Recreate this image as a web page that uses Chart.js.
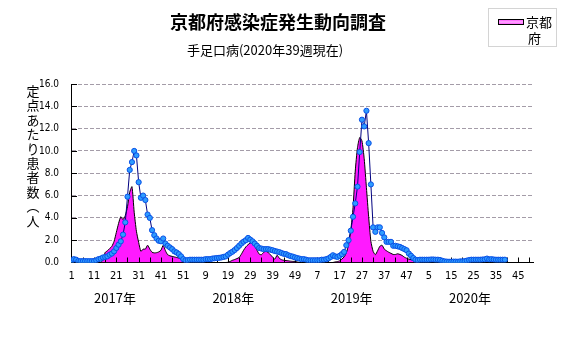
<!DOCTYPE html>
<html><head><meta charset="utf-8">
<script src="https://cdn.jsdelivr.net/npm/chart.js@4/dist/chart.umd.min.js"></script>
<style>html,body{margin:0;padding:0;background:#fff}#wrap{position:relative;width:567px;height:339px}</style>
</head><body><div id="wrap"><canvas id="c" width="567" height="339"></canvas></div>
<script>
// ---- data ----
const titleText = '京都府感染症発生動向調査';
const subtitleText = '手足口病(2020年39週現在)';
const yTitleChars = ['定','点','あ','た','り','患','者','数','︵','人'];
const legendLabel = '京都府';
const yearLabels = ['2017年','2018年','2019年','2020年'];
const weeksPerYear = [52, 52, 52, 53];
const tickLabels = ['1','11','21','31','41','51','9','19','29','39','49','7','17','27','37','47','5','15','25','35','45'];

// blue dotted line series
const line2017 = [0.15,0.3,0.25,0.13,0.12,0.12,0.12,0.12,0.12,0.12,0.13,
  0.2,0.3,0.35,0.45,0.5,0.55,0.7,0.8,1.0,1.3,1.6,1.9,2.5,3.6,5.9,8.3,9.0,10.0,9.6,7.2,5.8,6.0,5.6,4.3,4.0,2.9,2.45,2.15,1.95,1.9,2.15,1.7,1.5,1.35,1.2,1.0,0.9,0.75,0.55,0.3,0.2];
const line2018 = [0.22,0.25,0.25,0.25,0.25,0.25,0.25,0.25,0.3,0.3,0.3,
  0.35,0.38,0.4,0.42,0.45,0.5,0.55,0.7,0.85,0.97,1.12,1.3,1.5,1.7,1.87,2.0,2.2,2.05,1.9,1.7,1.5,1.3,1.25,1.2,1.2,1.2,1.15,1.1,1.03,0.98,0.93,0.85,0.78,0.75,0.65,0.58,0.53,0.46,0.4,0.35,0.3];
const line2019 = [0.3,0.25,0.2,0.2,0.2,0.2,0.2,0.2,0.25,0.25,0.3,0.37,0.5,0.65,0.55,0.5,0.6,0.75,0.95,1.55,
  2.0,2.85,4.1,5.3,6.8,9.9,12.8,12.2,13.6,10.7,7.0,3.15,2.75,3.15,3.15,2.65,2.25,1.85,1.85,1.85,1.5,1.5,1.45,1.4,1.3,1.2,1.1,0.8,0.6,0.4,0.25,0.22];
const line2020 = [0.25,0.25,0.25,0.25,0.25,0.27,0.27,0.25,0.25,0.22,0.15,0.1,0.08,0.07,0.07,0.08,0.08,0.07,0.1,0.1,0.12,0.17,0.22,0.25,0.25,0.25,0.25,0.25,0.27,0.28,0.35,0.28,0.3,0.27,0.25,0.25,0.25,0.25,0.25,
  null,null,null,null,null,null,null,null,null,null,null,null,null,null,null];

// magenta area series (京都府)
const area2017 = [0,0,0,0,0,0,0,0,0,0,0,0,0,0,
  0.2,0.9,1.05,1.25,1.45,1.9,2.7,3.5,4.1,3.85,4.2,5.0,6.3,6.8,4.5,2.8,1.8,1.0,1.2,1.2,1.55,1.2,0.92,0.86,0.88,0.95,1.1,1.55,1.05,0.7,0.6,0.55,0.5,0.45,0.4,0.3,0.2,0.1];
const area2018 = [0,0,0,0,0,0,0,0,0,0,0,0,0,0,0,0,0,0,
  0.02,0.1,0.2,0.27,0.35,0.45,0.75,1.1,1.4,1.6,1.75,1.82,1.45,1.1,0.75,0.7,0.92,1.0,0.9,0.7,0.48,0.3,0.65,0.38,0.25,0.2,0.17,0.15,0.12,0.1,0.1,0.05,0,0];
const area2019 = [0,0,0,0,0,0,0,0,0,0,0,0,0,0,0.05,0.08,0.15,0.3,
  0.5,0.85,1.6,2.9,4.9,8.2,10.3,11.2,10.9,9.3,6.7,4.1,1.9,1.0,0.7,1.05,1.45,1.55,1.2,1.05,0.92,0.82,0.72,0.72,0.78,0.72,0.63,0.48,0.38,0.3,0.25,0.17,0.1,0.05];
const area2020 = [null,null,null,null,null,null,null,null,null,null,null,null,null,null,null,null,null,null,null,null,null,null,null,null,null,null,null,
  null,null,null,null,null,null,null,null,null,null,null,null,null,null,null,null,null,null,null,null,null,null,null,null,null,null];

// ---- build ----
const lineVals = [].concat(line2017, line2018, line2019, line2020);
const areaVals = [].concat(area2017, area2018, area2019, area2020);
const toPts = arr => arr.map((v, i) => ({x: i, y: v}));

const CJK = "'Noto Sans CJK JP','Noto Sans CJK SC',sans-serif";
const NARROW = "'Liberation Sans Narrow','DejaVu Sans Condensed','Liberation Sans',sans-serif";

const decor = {
  id: 'decor',
  afterDatasetDraw(chart, args) {
    if (args.index !== 1) return;
    const {ctx, chartArea: a, scales: {x, y}} = chart;
    ctx.save();
    ctx.strokeStyle = '#000';
    ctx.lineWidth = 1;
    ctx.beginPath();
    for (let v = 5; v <= 205; v += 5) {
      const px = Math.round(x.getPixelForValue(v)) + 0.5;
      ctx.moveTo(px, a.bottom);
      ctx.lineTo(px, a.bottom - 5);
    }
    for (let v = 2; v <= 16; v += 2) {
      const py = Math.round(y.getPixelForValue(v)) + 0.5;
      ctx.moveTo(a.left, py);
      ctx.lineTo(a.left + 6, py);
    }
    ctx.stroke();
    ctx.restore();
  },
  afterDraw(chart) {
    const {ctx, scales: {x}} = chart;
    ctx.save();
    ctx.fillStyle = '#000';
    ctx.textAlign = 'center';
    ctx.textBaseline = 'middle';
    ctx.font = 'bold 18px ' + CJK;
    ctx.fillText(titleText, 278, 22);
    ctx.font = '13px ' + CJK;
    ctx.fillText(subtitleText, 265, 50);
    // vertical y title
    ctx.font = '13px ' + CJK;
    yTitleChars.forEach((ch, i) => ctx.fillText(ch, 33, 91 + i * 14.4));
    // year labels
    ctx.font = '13px ' + CJK;
    yearLabels.forEach((t, k) => ctx.fillText(t, x.getPixelForValue(19.4 + 53 * k), 298));
    // legend
    ctx.strokeStyle = '#a8a8a8';
    ctx.setLineDash([1, 1]);
    ctx.strokeRect(488.5, 8.5, 68, 38);
    ctx.setLineDash([]);
    const g = ctx.createLinearGradient(0, 19, 0, 25);
    g.addColorStop(0, '#ff30ff'); g.addColorStop(0.5, '#ffb0ff'); g.addColorStop(1, '#ff30ff');
    ctx.fillStyle = g;
    ctx.fillRect(498, 19, 26, 5);
    ctx.strokeStyle = '#000';
    ctx.strokeRect(498.5, 19.5, 25, 5);
    ctx.fillStyle = '#000';
    ctx.textAlign = 'left';
    ctx.font = '13px ' + CJK;
    ctx.fillText(legendLabel.slice(0, 2), 526, 22);
    ctx.fillText(legendLabel.slice(2), 528, 38);
    ctx.restore();
  }
};

new Chart(document.getElementById('c'), {
  type: 'line',
  data: {
    datasets: [
      {
        label: '', data: toPts(lineVals), borderColor: '#000080', borderWidth: 1,
        pointRadius: 2.6, pointBackgroundColor: '#2e9cff', pointBorderColor: '#0a50e6', pointBorderWidth: 1,
        fill: false, tension: 0, spanGaps: false
      },
      {
        label: legendLabel, data: toPts(areaVals), borderColor: '#000', borderWidth: 1,
        backgroundColor: '#ff1aff', fill: 'origin', pointRadius: 0, tension: 0.2
      }
    ]
  },
  options: {
    responsive: false, animation: false, devicePixelRatio: 1,
    layout: {padding: {top: 84, right: 34, left: 0, bottom: 0}},
    plugins: {legend: {display: false}, title: {display: false}, tooltip: {enabled: false}},
    scales: {
      x: {
        type: 'linear', min: -0.3, max: 206.6,
        grid: {display: false, drawTicks: false},
        border: {display: true, color: '#000', width: 1},
        afterBuildTicks: s => { s.ticks = tickLabels.map((t, i) => ({value: i * 10})); },
        ticks: {
          autoSkip: false, maxRotation: 0, padding: 7, color: '#000',
          font: {family: NARROW, size: 11},
          callback: (v, i) => tickLabels[i]
        },
        afterFit: s => { s.height = 76.5; }
      },
      y: {
        min: 0, max: 16,
        grid: {color: c => c.tick && c.tick.value === 0 ? 'rgba(0,0,0,0)' : '#a49ca8', drawTicks: false},
        border: {display: true, color: '#000', width: 1, dash: [4, 2]},
        ticks: {stepSize: 2, padding: 12, color: '#000', font: {family: NARROW, size: 10}, callback: v => v.toFixed(1)},
        afterFit: s => { s.width = 71; }
      }
    }
  },
  plugins: [decor]
});
</script></body></html>
